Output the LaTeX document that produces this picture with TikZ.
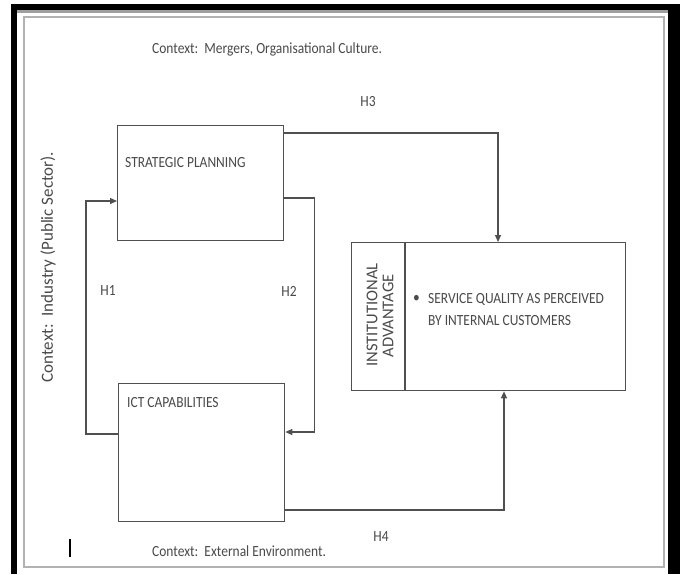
\documentclass[tikz,border=0pt]{standalone}
\usepackage{fontspec}
\setmainfont{Carlito}
\usetikzlibrary{arrows.meta,calc}
\definecolor{txt}{HTML}{4A4A4A}
\definecolor{ln}{HTML}{505050}
\newcommand{\hs}[1]{\scalebox{0.87}[1]{#1}}
\begin{document}
\begin{tikzpicture}[x=1pt,y=-1pt,
  box/.style={draw=ln,line width=1.3pt,minimum width=#1,anchor=north west,inner sep=0pt},
  conn/.style={draw=ln,line width=1.3pt,-{Triangle[length=7pt,width=6pt]}},
  lbl/.style={text=txt,inner sep=0pt,font=\fontsize{15.5}{18}\selectfont},
  rlbl/.style={text=txt,inner sep=0pt,rotate=90,font=\fontsize{16.5}{17}\selectfont}]
\useasboundingbox (0,0) rectangle (680,574);
\fill[white] (0,0) rectangle (680,574);
% outer frame
\fill[black] (11,4) rectangle (680,10);
\fill[black] (11,4) rectangle (17,574);
\fill[black] (668,4) rectangle (680,574);
\fill[gray!75] (17,10) rectangle (668,13);
\draw[gray!60,line width=1.6pt] (24,17) rectangle (664,567);
% boxes
\node[box=166pt,minimum height=115pt] (sp) at (117,125) {};
\node[box=166pt,minimum height=138pt] (ict) at (118,383) {};
\node[box=274pt,minimum height=148pt] (inst) at (351,242) {};
\draw[ln,line width=1.3pt] ([xshift=54pt]inst.north west) -- ([xshift=54pt]inst.south west);
% box texts
\node[lbl,anchor=west] (spt) at (125,163) {\hs{STRATEGIC PLANNING}};
\node[lbl,anchor=west] (ictt) at (127,403) {\hs{ICT CAPABILITIES}};
\node[lbl,anchor=west] (bul) at (413,299) {\hs{•}};
\node[lbl,anchor=west] (sq1) at (428,299) {\hs{SERVICE QUALITY AS PERCEIVED}};
\node[lbl,anchor=west] (sq2) at (428,321) {\hs{BY INTERNAL CUSTOMERS}};
\node[rlbl] (ia1) at (372,315) {INSTITUTIONAL};
\node[rlbl] (ia2) at (388,316) {ADVANTAGE};
% connectors
\draw[conn] ([yshift=-8pt]sp.north east) -| ([xshift=147pt]inst.north west);
\draw[conn] ([yshift=-73pt]sp.north east) -- ++(30,0) |- ([yshift=-49pt]ict.north east);
\draw[conn] ([yshift=-51pt]ict.north west) -- ++(-32,0) |- ([yshift=-76pt]sp.north west);
\draw[conn] ([yshift=-127pt]ict.north east) -| ([xshift=153pt]inst.south west);
% hypothesis labels
\node[lbl] (h3) at (368,102) {\hs{H3}};
\node[lbl] (h1) at (108,291) {\hs{H1}};
\node[lbl] (h2) at (289,291) {\hs{H2}};
\node[lbl] (h4) at (381,537) {\hs{H4}};
% context labels
\node[lbl,anchor=west] (ctop) at (152,49) {\hs{Context:\ \ Mergers, Organisational Culture.}};
\node[lbl,anchor=west] (cbot) at (152,551) {\hs{Context:\ \ External Environment.}};
\node[rlbl,font=\fontsize{17}{18}\selectfont] (cleft) at (48,267) {Context:\ \ Industry (Public Sector).};
% stray bar
\draw[black,line width=2pt] (70,539) -- (70,557);
\end{tikzpicture}
\end{document}
